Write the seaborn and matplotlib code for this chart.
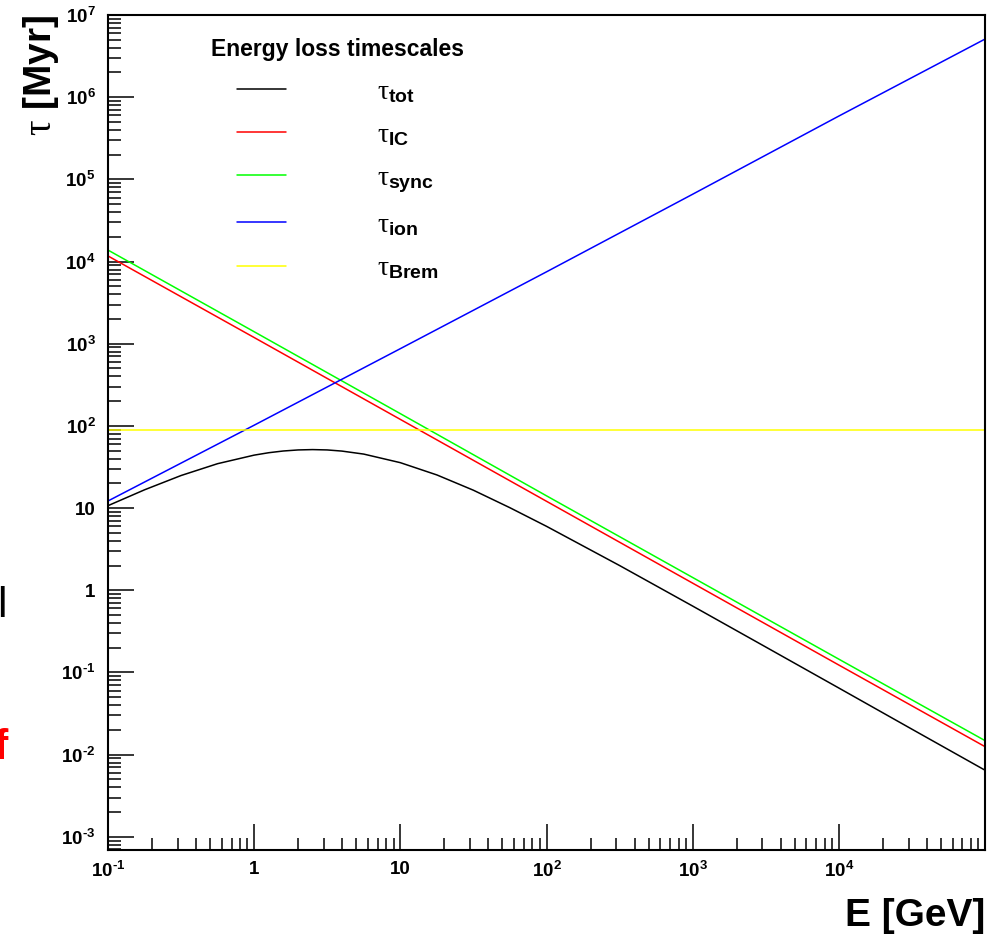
import matplotlib
matplotlib.use("Agg")
import matplotlib.pyplot as plt
import pandas as pd
import seaborn as sns
from matplotlib.ticker import FixedLocator, LogLocator, NullFormatter

# Electron energy [GeV] and loss timescales [Myr]
energy_decades = [0.1, 1, 10, 100, 1e3, 1e4, 1e5]
tau_ic = [1.17e4, 1.19e3, 120, 12.1, 1.22, 0.123, 0.0125]
tau_sync = [1.38e4, 1.40e3, 141, 14.1, 1.43, 0.145, 0.0148]
tau_ion = [12.2, 102, 871, 7.5e3, 6.6e4, 5.9e5, 5.1e6]

energy_brem = [0.1, 1e5]
tau_brem = [88, 88]

energy_tot = [0.1, 0.178, 0.316, 0.562, 1.0, 1.26, 1.58, 2.0, 2.51, 3.16,
              3.98, 5.62, 10, 17.8, 31.6, 56.2, 100, 316, 1e3, 3.16e3,
              1e4, 3.16e4, 1e5]
tau_tot = [10.7, 16.7, 24.9, 34.7, 44.1, 47.2, 49.5, 51.0, 51.5, 51.0,
           49.4, 45.4, 35.7, 25.3, 16.5, 10.1, 6.0, 2.0, 0.642, 0.204,
           0.0646, 0.0204, 0.00646]

series_names = ["tot", "IC", "sync", "ion", "Brem"]
series_colors = ["#000000", "#ff0000", "#00ff00", "#0000ff", "#ffff00"]
legend_labels = [r"$\tau_{\mathbf{tot}}$", r"$\tau_{\mathbf{IC}}$",
                 r"$\tau_{\mathbf{sync}}$", r"$\tau_{\mathbf{ion}}$",
                 r"$\tau_{\mathbf{Brem}}$"]

x_tick_values = [0.1, 1, 10, 100, 1e3, 1e4]
x_tick_labels = [r"$\mathbf{10^{‐1}}$", "1", "10", r"$\mathbf{10^{2}}$",
                 r"$\mathbf{10^{3}}$", r"$\mathbf{10^{4}}$"]
y_tick_values = [1e-3, 1e-2, 1e-1, 1, 10, 1e2, 1e3, 1e4, 1e5, 1e6, 1e7]
y_tick_labels = [r"$\mathbf{10^{‐3}}$", r"$\mathbf{10^{‐2}}$", r"$\mathbf{10^{‐1}}$",
                 "1", "10", r"$\mathbf{10^{2}}$", r"$\mathbf{10^{3}}$",
                 r"$\mathbf{10^{4}}$", r"$\mathbf{10^{5}}$", r"$\mathbf{10^{6}}$",
                 r"$\mathbf{10^{7}}$"]

frames = [
    pd.DataFrame({"E": energy_tot, "tau": tau_tot, "series": "tot"}),
    pd.DataFrame({"E": energy_decades, "tau": tau_ic, "series": "IC"}),
    pd.DataFrame({"E": energy_decades, "tau": tau_sync, "series": "sync"}),
    pd.DataFrame({"E": energy_decades, "tau": tau_ion, "series": "ion"}),
    pd.DataFrame({"E": energy_brem, "tau": tau_brem, "series": "Brem"}),
]
data = pd.concat(frames, ignore_index=True)

sns.set_theme(style="white")
plt.rcParams["font.family"] = ["Liberation Sans", "DejaVu Sans"]
plt.rcParams["mathtext.fontset"] = "custom"
plt.rcParams["mathtext.rm"] = "Liberation Sans"
plt.rcParams["mathtext.bf"] = "Liberation Sans:bold"
plt.rcParams["mathtext.it"] = "Liberation Serif"
for key in ["text.color", "axes.labelcolor", "xtick.color", "ytick.color",
            "axes.edgecolor"]:
    plt.rcParams[key] = "black"

fig = plt.figure(figsize=(10, 9.35), dpi=100)
ax = fig.add_axes([0.108, 0.0909, 0.877, 0.893])

for name, color in zip(series_names, series_colors):
    sns.lineplot(data=data[data["series"] == name], x="E", y="tau",
                 color=color, linewidth=1.1, estimator=None, sort=False,
                 ax=ax, label=name)

ax.set_xscale("log")
ax.set_yscale("log")
ax.set_xlim(0.1, 1e5)
ax.set_ylim(6.9e-4, 1e7)

ax.xaxis.set_major_locator(FixedLocator(x_tick_values))
ax.set_xticklabels(x_tick_labels)
ax.yaxis.set_major_locator(FixedLocator(y_tick_values))
ax.set_yticklabels(y_tick_labels)
ax.xaxis.set_minor_locator(LogLocator(base=10, subs=range(2, 10), numticks=20))
ax.yaxis.set_minor_locator(LogLocator(base=10, subs=range(2, 10), numticks=20))
ax.xaxis.set_minor_formatter(NullFormatter())
ax.yaxis.set_minor_formatter(NullFormatter())

ax.tick_params(which="major", direction="in", length=19, width=1.1,
               labelsize=13.5, colors="black", left=True, bottom=True,
               top=False, right=False)
ax.tick_params(which="minor", direction="in", length=9, width=1.1,
               left=True, bottom=True, top=False, right=False)
ax.tick_params(axis="x", which="major", pad=8)
ax.tick_params(axis="y", which="major", pad=9)
for lbl in ax.get_xticklabels() + ax.get_yticklabels():
    lbl.set_fontweight("bold")

for spine in ax.spines.values():
    spine.set_linewidth(1.5)
    spine.set_color("black")

ax.set_xlabel("E [GeV]", loc="right", fontsize=28, fontweight="bold",
              labelpad=12)
ax.set_ylabel(r"$\tau$ [Myr]", loc="top", fontsize=28, fontweight="bold",
              labelpad=0)

handles = ax.get_lines()[:len(series_names)]
leg = ax.legend(handles, legend_labels, title="Energy loss timescales",
                loc="upper left", bbox_to_anchor=(0.118, 0.972),
                frameon=False, fontsize=20, handlelength=1.75,
                handletextpad=3.3, labelspacing=0.62, borderaxespad=0,
                borderpad=0,
                title_fontproperties={"weight": "bold", "size": 16.5})
for line in leg.get_lines():
    line.set_linewidth(1.1)

# partial glyphs along the left edge
fig.text(-0.003, 1 - 606 / 935, "l", fontsize=31, color="black",
         ha="left", va="center")
fig.text(0.008, 1 - 748 / 935, "f", fontsize=31, color="#ff0000",
         fontweight="bold", ha="right", va="center")

fig.savefig("out.png", dpi=100)
